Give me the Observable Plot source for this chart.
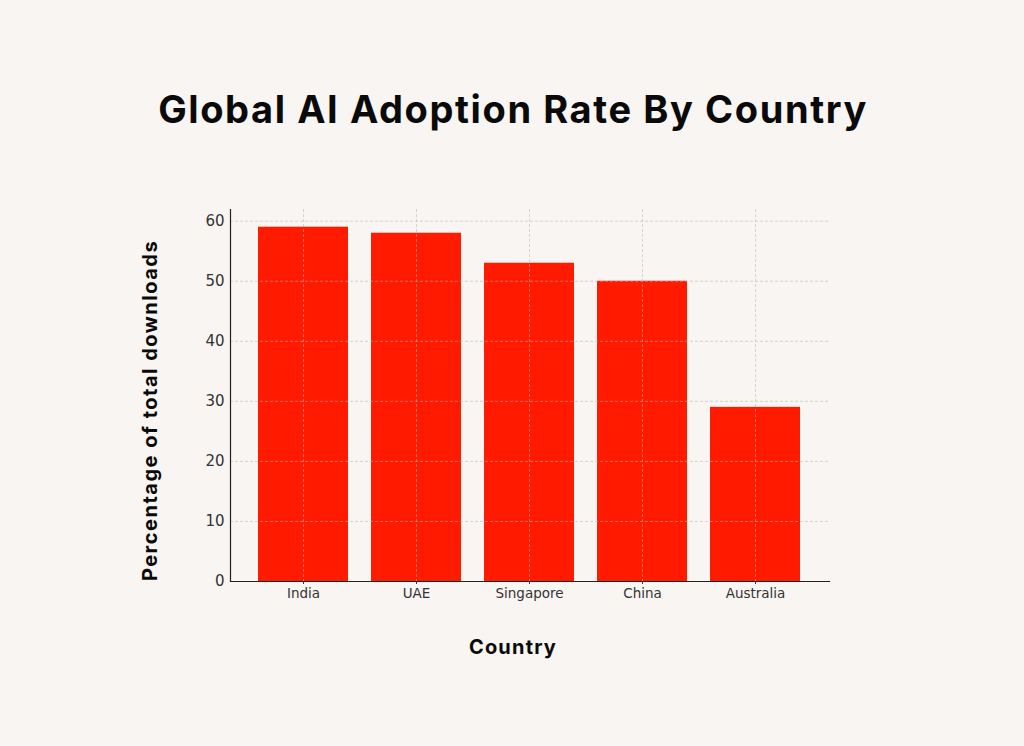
<!DOCTYPE html>
<html>
<head>
<meta charset="utf-8">
<script src="https://cdn.jsdelivr.net/npm/d3@7"></script>
<script src="https://cdn.jsdelivr.net/npm/@observablehq/plot@0.6"></script>
<style>
  html, body { margin: 0; padding: 0; background: #f8f5f2; }
  #chart svg { display: block; }
</style>
</head>
<body>
<div id="chart"></div>
<script>
const countries = ["India", "UAE", "Singapore", "China", "Australia"];
const values = [59, 58, 53, 50, 29];
const yTicks = [0, 10, 20, 30, 40, 50, 60];
const title = "Global AI Adoption Rate By Country";
const xLabel = "Country";
const yLabel = "Percentage of total downloads";

const data = countries.map((c, i) => ({country: c, value: values[i]}));

const plot = Plot.plot({
  width: 1024,
  height: 746,
  marginTop: 209,
  marginBottom: 165,
  marginLeft: 230,
  marginRight: 195,
  style: {background: "#f8f5f2", fontFamily: "DejaVu Sans"},
  x: {type: "band", domain: countries, paddingInner: 0.2, paddingOuter: 0.2385, label: null},
  y: {domain: [0, 61.95], label: null},
  marks: [
    Plot.barY(data, {x: "country", y: "value", fill: "#ff1a00"}),
    Plot.gridY(yTicks, {stroke: "#b8b8b8", strokeOpacity: 0.7, strokeDasharray: "3,2", strokeWidth: 0.8}),
    Plot.gridX(countries, {stroke: "#b8b8b8", strokeOpacity: 0.7, strokeDasharray: "3,2", strokeWidth: 0.8}),
    Plot.axisY(yTicks, {tickSize: 0, tickPadding: 6, fontSize: 15, fill: "#333", label: null}),
    Plot.axisX(countries, {tickSize: 3, tickPadding: 4, fontSize: 13.5, fill: "#333", stroke: "#333", label: null}),
    Plot.frame({anchor: "left", stroke: "#222", strokeWidth: 1.2}),
    Plot.frame({anchor: "bottom", stroke: "#222", strokeWidth: 1.2}),
    Plot.text([title], {frameAnchor: "top", dx: -17, dy: -99, lineAnchor: "middle", textAnchor: "middle", fontSize: 38, fontWeight: 700, fontFamily: "Inter", fill: "#0a0a0a"}),
    Plot.text([xLabel], {frameAnchor: "bottom", dx: -17, dy: 66, lineAnchor: "middle", textAnchor: "middle", fontSize: 20, fontWeight: 700, fontFamily: "Inter", fill: "#0a0a0a"}),
    Plot.text([yLabel], {frameAnchor: "left", dx: -80, dy: 15, rotate: -90, lineAnchor: "middle", textAnchor: "middle", fontSize: 20, fontWeight: 700, fontFamily: "Inter", fill: "#0a0a0a"})
  ]
});
d3.select(plot).selectAll("text").each(function() {
  const t = this.textContent;
  if (t === title) d3.select(this).style("letter-spacing", "1.6px");
  else if (t === xLabel) d3.select(this).style("letter-spacing", "1.2px");
  else if (t === yLabel) d3.select(this).style("letter-spacing", "1.5px");
});
document.getElementById("chart").appendChild(plot);
</script>
</body>
</html>
